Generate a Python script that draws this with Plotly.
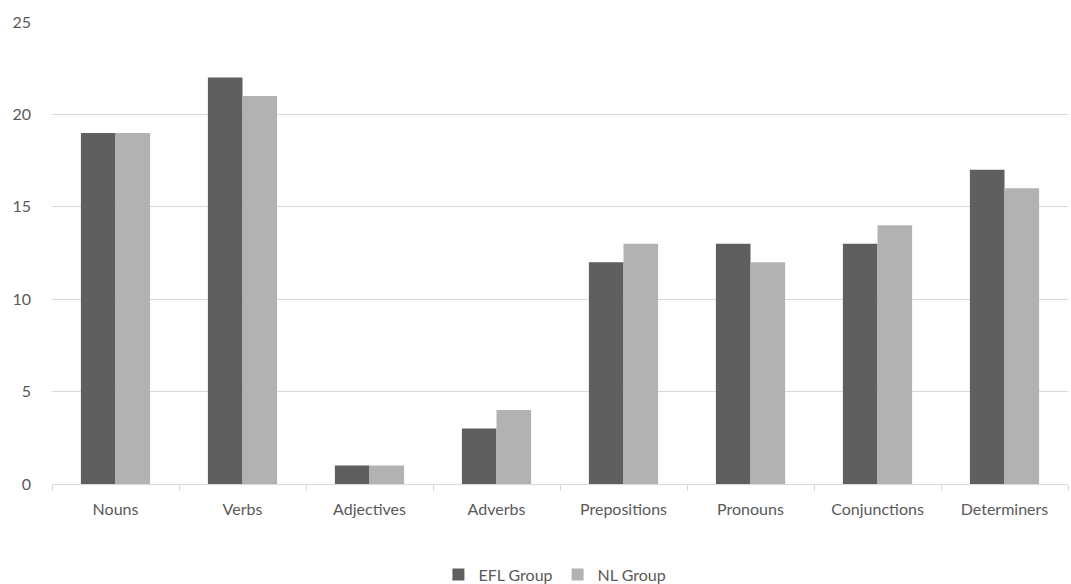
import plotly.graph_objects as go

categories = ["Nouns", "Verbs", "Adjectives", "Adverbs", "Prepositions",
              "Pronouns", "Conjunctions", "Determiners"]
efl_group = [19, 22, 1, 3, 12, 13, 13, 17]
nl_group = [19, 21, 1, 4, 13, 12, 14, 16]
y_ticks = [0, 5, 10, 15, 20, 25]

font_family = "Lato, Carlito, 'Open Sans', sans-serif"
text_color = "#595959"
grid_color = "#d9d9d9"

fig = go.Figure()
fig.add_trace(go.Bar(x=categories, y=efl_group, name="EFL Group",
                     marker=dict(color="#5f5f5f", line=dict(width=0))))
fig.add_trace(go.Bar(x=categories, y=nl_group, name="NL Group",
                     marker=dict(color="#b2b2b2", line=dict(width=0))))

fig.update_layout(
    width=1071, height=584,
    margin=dict(l=52, r=3, t=22, b=100, autoexpand=False),
    plot_bgcolor="white", paper_bgcolor="white",
    barmode="group", bargap=0.455, bargroupgap=0,
    font=dict(family=font_family, size=16, color=text_color),
    showlegend=True,
    legend=dict(orientation="h", x=0.495, xanchor="center",
                yref="container", y=0.016, yanchor="middle",
                font=dict(size=16, color=text_color), itemwidth=30,
                traceorder="normal"),
    xaxis=dict(showgrid=False, showline=True, linecolor=grid_color, linewidth=1,
               ticks="outside", tickson="boundaries", ticklen=6,
               tickcolor=grid_color, ticklabelstandoff=11,
               tickfont=dict(size=16, color=text_color)),
    yaxis=dict(range=[0, 25], tickvals=y_ticks, showgrid=True,
               gridcolor=grid_color, gridwidth=1, zeroline=False,
               showline=False, ticks="", ticklabelstandoff=20,
               tickfont=dict(size=16, color=text_color)),
)

fig.write_html("out.html")
